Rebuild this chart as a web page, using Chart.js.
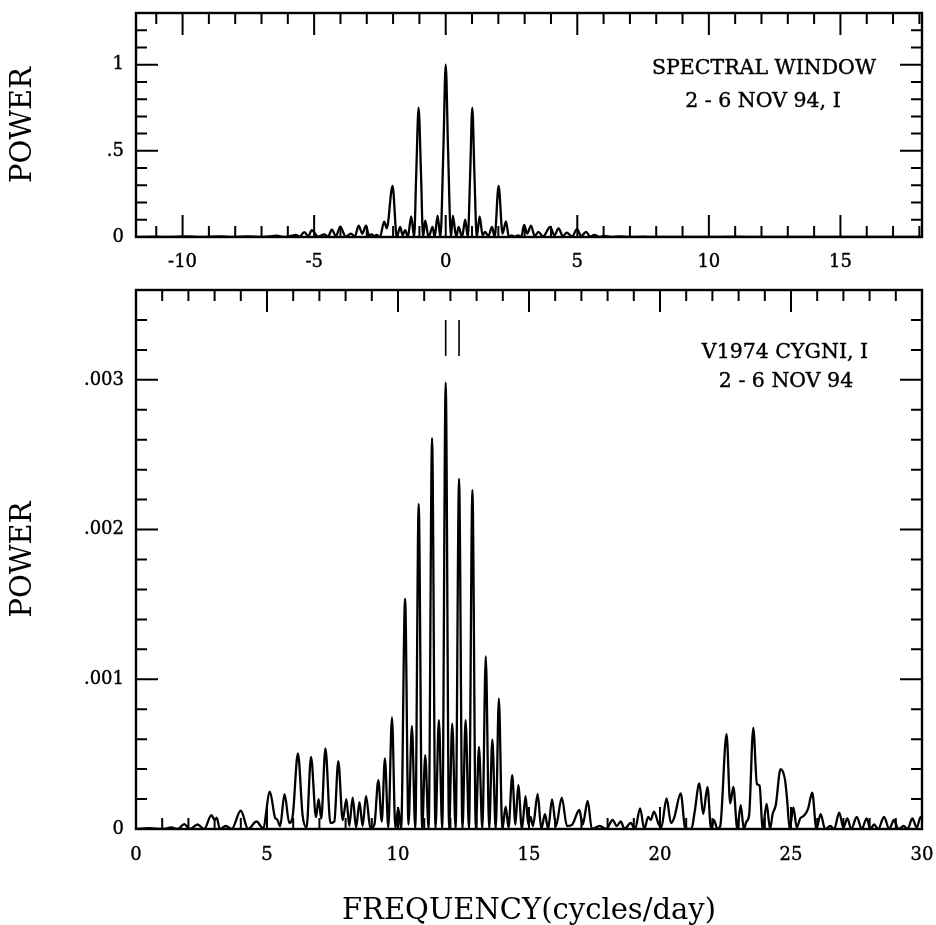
<!DOCTYPE html>
<html><head><meta charset="utf-8">
<script src="https://cdn.jsdelivr.net/npm/chart.js@4/dist/chart.umd.min.js"></script>
<style>
html,body{margin:0;padding:0;background:#fff;}
#wrap{position:relative;width:936px;height:925px;background:#fff;}
canvas{position:absolute;left:0;}
#c1{top:0;}
#c2{top:270px;}
</style></head><body>
<div id="wrap"><canvas id="c1" width="936" height="270"></canvas><canvas id="c2" width="936" height="655"></canvas></div>
<script>
// ---------- DATA ----------
// Top panel: spectral window
const windowFreq = [
 -11.77,-11.0,-10.5,-9.9,-9.3,-8.6,-8.1,-7.5,-7.0,-6.7,
 -6.42,-6.15,-5.9,-5.7,-5.55,-5.38,-5.22,-5.09,-4.85,-4.61,
 -4.47,-4.33,-4.17,-4.01,-3.8,-3.6,-3.45,-3.31,-3.17,-3.03,
 -2.92,-2.81,-2.72,-2.62,-2.5,-2.34,-2.24,-2.02,-1.86,-1.73,
 -1.64,-1.54,-1.44,-1.31,-1.2,-1.12,-1.03,-0.94,-0.86,-0.78,
 -0.65,-0.5,-0.42,-0.31,-0.2,-0.09,0,0.09,0.2,0.27,
 0.4,0.49,0.62,0.74,0.84,0.93,1.01,1.09,1.18,1.29,
 1.4,1.5,1.62,1.76,1.86,2.01,2.16,2.29,2.4,2.5,
 2.62,2.75,2.87,2.98,3.1,3.24,3.38,3.52,3.7,3.97,
 4.13,4.29,4.45,4.6,4.8,4.99,5.15,5.33,5.5,5.65,
 5.85,6.0,6.3,6.6,7.0,7.5,8.0,9.0,10.0,11.0,
 12.0,13.5,15.0,16.5,18.1];
const windowPower = [
 0,0.002,0,0.003,0,0.003,0,0.004,0,0.004,
 0.008,0,0.006,0.012,0.002,0.028,0.005,0.04,0.002,0.015,
 0.002,0.043,0.005,0.06,0.003,0.02,0.003,0.066,0.02,0.066,
 0.01,0.015,0.005,0.012,0,0.089,0.05,0.297,0,0.058,
 0.01,0.04,0,0.12,0,0.37,0.75,0.37,0,0.095,
 0,0.058,0,0.124,0,0.5,1.0,0.5,0,0.124,
 0,0.058,0,0.1,0,0.37,0.75,0.37,0,0.12,
 0.01,0.03,0.005,0.058,0,0.297,0.02,0.09,0,0.01,
 0.002,0.01,0,0.07,0.02,0.066,0.005,0.03,0.003,0.058,
 0.01,0.05,0.005,0.025,0.003,0.045,0.005,0.03,0.002,0.012,
 0,0.006,0,0.003,0,0.002,0,0.001,0,0.002,
 0,0.001,0,0.001,0];

// Bottom panel: V1974 Cygni power spectrum (power in units of 0.001)
const cygFreq = [
 0,0.5,1.0,1.35,1.6,1.84,2.05,2.35,2.6,2.88,
 3.0,3.08,3.2,3.43,3.65,4.0,4.28,4.6,4.85,5.11,
 5.3,5.4,5.5,5.67,5.85,5.98,6.18,6.36,6.51,6.68,
 6.87,6.97,7.07,7.23,7.42,7.57,7.72,7.89,8.03,8.14,
 8.27,8.4,8.53,8.65,8.78,8.95,9.1,9.25,9.38,9.5,
 9.63,9.77,9.9,10.01,10.12,10.27,10.4,10.53,10.66,10.79,
 10.92,11.04,11.17,11.30,11.43,11.56,11.69,11.82,11.95,12.07,
 12.2,12.33,12.46,12.58,12.71,12.84,12.97,13.09,13.22,13.35,
 13.48,13.6,13.73,13.85,13.98,14.11,14.22,14.36,14.48,14.59,
 14.73,14.87,14.97,15.06,15.15,15.33,15.47,15.61,15.73,15.88,
 16.03,16.25,16.45,16.65,16.92,17.05,17.24,17.4,17.7,17.95,
 18.19,18.35,18.5,18.65,18.88,19.05,19.24,19.4,19.55,19.65,
 19.77,19.95,20.05,20.25,20.42,20.55,20.79,20.97,21.2,21.32,
 21.5,21.65,21.81,21.95,22.05,22.2,22.3,22.54,22.68,22.8,
 22.95,23.08,23.2,23.3,23.4,23.56,23.7,23.8,23.92,24.07,
 24.2,24.3,24.42,24.6,24.77,24.85,24.95,25.09,25.22,25.35,
 25.5,25.65,25.81,25.97,26.13,26.3,26.5,26.65,26.84,27.0,
 27.15,27.3,27.51,27.7,27.89,28.03,28.17,28.33,28.55,28.75,
 28.93,29.1,29.3,29.45,29.63,29.8,29.95,30];
const cygPowerMilli = [
 0,0.005,0,0.01,0,0.033,0,0.03,0,0.093,
 0.06,0.075,0,0.02,0,0.122,0,0.05,0.005,0.249,
 0.08,0.06,0.02,0.233,0.04,0.086,0.505,0.09,0.01,0.482,
 0.08,0.2,0.07,0.538,0.04,0.05,0.453,0.06,0.2,0.02,
 0.21,0.01,0.18,0.02,0.22,0,0.03,0.327,0.05,0.471,
 0.01,0.745,0.005,0.14,0,1.538,0.03,0.687,0,2.171,
 0,0.493,0,2.611,0,0.727,0,2.982,0,0.704,
 0,2.338,0,0.727,0,2.264,0,0.549,0,1.153,
 0,0.598,0,0.871,0,0.15,0.01,0.36,0.03,0.293,
 0,0.22,0.03,0.08,0.02,0.233,0,0.1,0,0.198,
 0.02,0.209,0.02,0.03,0.127,0.03,0.187,0,0.02,0,
 0.06,0.02,0.05,0,0.04,0,0.138,0,0.08,0.06,
 0.116,0.03,0.01,0.204,0.04,0.08,0.238,0,0,0.11,
 0.304,0.1,0.282,0,0.06,0,0.02,0.633,0.17,0.282,
 0,0.16,0,0.05,0.09,0.676,0.3,0.29,0,0.167,
 0,0.1,0.16,0.4,0.33,0.2,0,0.144,0.01,0.07,
 0.09,0.135,0.242,0,0.1,0,0.02,0,0.11,0.01,
 0.07,0,0.08,0,0.07,0,0.03,0,0.08,0,
 0.06,0,0.02,0,0.07,0.01,0.08,0.07];
const POWER_UNIT = 0.001;

// Marker lines ("||") above the main peaks
const markerFreqs = [11.82, 12.33];
const markerPowerRange = [0.00316, 0.0034];

// Axes ranges and tick labels
const topXRange = [-11.77, 18.1];
const topYRange = [0, 1.3];
const topXMajor = [-10, -5, 0, 5, 10, 15];
const topXLabels = ['-10', '-5', '0', '5', '10', '15'];
const topYMajor = [0, 0.5, 1];
const topYLabels = ['0', '.5', '1'];
const botXRange = [0, 30];
const botYRange = [0, 0.0036];
const botXMajor = [0, 5, 10, 15, 20, 25, 30];
const botXLabels = ['0', '5', '10', '15', '20', '25', '30'];
const botYMajor = [0, 0.001, 0.002, 0.003];
const botYLabels = ['0', '.001', '.002', '.003'];
const xMinorStep = 1, topYMinorStep = 0.1, botYMinorStep = 0.0002;

// Text
const topNote = ['SPECTRAL WINDOW', '2 - 6 NOV 94, I'];
const botNote = ['V1974 CYGNI, I', '2 - 6 NOV 94'];
const yTitle = 'POWER';
const xTitle = 'FREQUENCY(cycles/day)';

// ---------- RENDERING ----------
const FONT = "'DejaVu Serif', 'Liberation Serif', serif";

function stepValues(min, max, step) {
  const out = [];
  const start = Math.ceil(min / step - 1e-9);
  const end = Math.floor(max / step + 1e-9);
  for (let i = start; i <= end; i++) out.push(+(i * step).toPrecision(12));
  return out;
}
function isIn(v, arr, tol) { return arr.findIndex(m => Math.abs(m - v) < tol); }

function tickBuilder(range, step, majors, tol) {
  return function (scale) {
    scale.ticks = stepValues(range[0], range[1], step).map(v => ({ value: v, big: isIn(v, majors, tol) >= 0 }));
  };
}
function labelCb(majors, labels, tol) {
  return function (v) { const i = isIn(v, majors, tol); return i >= 0 ? labels[i] : ''; };
}

const frameTicks = {
  id: 'frameTicks',
  afterDatasetsDraw(chart) {
    const { ctx, chartArea: a } = chart;
    const xs = chart.scales.x, ys = chart.scales.y;
    ctx.save();
    ctx.strokeStyle = '#000';
    ctx.lineWidth = 2;
    ctx.beginPath();
    xs.ticks.forEach(t => {
      const p = xs.getPixelForValue(t.value);
      const L = t.big ? 22 : 11;
      ctx.moveTo(p, a.bottom); ctx.lineTo(p, a.bottom - L);
      ctx.moveTo(p, a.top); ctx.lineTo(p, a.top + L);
    });
    ys.ticks.forEach(t => {
      const p = ys.getPixelForValue(t.value);
      const L = t.big ? 22 : 11;
      ctx.moveTo(a.left, p); ctx.lineTo(a.left + L, p);
      ctx.moveTo(a.right, p); ctx.lineTo(a.right - L, p);
    });
    ctx.stroke();
    ctx.lineWidth = 2.4;
    ctx.strokeRect(a.left, a.top, a.right - a.left, a.bottom - a.top);
    ctx.restore();
  }
};

const notes = {
  id: 'notes',
  afterDraw(chart, args, opts) {
    const ctx = chart.ctx;
    ctx.save();
    ctx.fillStyle = '#000';
    ctx.strokeStyle = '#000';
    ctx.lineWidth = 0.4;
    ctx.font = opts.font;
    ctx.textAlign = 'center';
    ctx.textBaseline = 'alphabetic';
    (opts.items || []).forEach(it => { ctx.fillText(it.text, it.x, it.y); ctx.strokeText(it.text, it.x, it.y); });
    ctx.restore();
  }
};

function baseOptions(p) {
  return {
    responsive: false,
    animation: false,
    devicePixelRatio: 1,
    layout: { padding: p.padding },
    plugins: { legend: { display: false }, tooltip: { enabled: false }, notes: p.notes },
    scales: {
      x: {
        type: 'linear', min: p.xRange[0], max: p.xRange[1],
        grid: { display: false }, border: { display: false },
        afterBuildTicks: tickBuilder(p.xRange, xMinorStep, p.xMajor, 1e-6),
        afterFit: s => { s.height = p.xHeight; s.paddingLeft = 0; s.paddingRight = 0; },
        ticks: { autoSkip: false, maxRotation: 0, minRotation: 0, padding: p.xPad, color: '#000',
                 textStrokeColor: '#000', textStrokeWidth: 0.4,
                 font: { family: FONT, size: 18 }, callback: labelCb(p.xMajor, p.xLabels, 1e-6) },
        title: p.xTitle
      },
      y: {
        type: 'linear', min: p.yRange[0], max: p.yRange[1],
        grid: { display: false }, border: { display: false },
        afterBuildTicks: tickBuilder(p.yRange, p.yStep, p.yMajor, p.yStep * 1e-3),
        afterFit: s => { s.width = 136; s.paddingTop = 0; s.paddingBottom = 0; },
        ticks: { autoSkip: false, padding: 4, color: '#000',
                 textStrokeColor: '#000', textStrokeWidth: 0.4,
                 font: { family: FONT, size: 18 }, callback: labelCb(p.yMajor, p.yLabels, p.yStep * 1e-3) },
        title: { display: true, text: yTitle, color: '#000', font: { family: FONT, size: 29 }, padding: { top: 6, bottom: 0 } }
      }
    }
  };
}

new Chart(document.getElementById('c1'), {
  type: 'line',
  data: {
    datasets: [{
      data: windowFreq.map((f, i) => ({ x: f, y: windowPower[i] })),
      borderColor: '#000', borderWidth: 2.3, pointRadius: 0, fill: false,
      cubicInterpolationMode: 'monotone'
    }]
  },
  options: baseOptions({
    padding: { top: 13, right: 14, left: 0, bottom: 0 },
    xRange: topXRange, xMajor: topXMajor, xLabels: topXLabels, xHeight: 33, xPad: 7,
    xTitle: { display: false },
    yRange: topYRange, yMajor: topYMajor, yLabels: topYLabels, yStep: topYMinorStep,
    notes: { font: "20.5px " + FONT, items: [
      { text: topNote[0], x: 764, y: 74 },
      { text: topNote[1], x: 763, y: 107 } ] }
  }),
  plugins: [frameTicks, notes]
});

const markerSets = markerFreqs.map(f => ({
  data: markerPowerRange.map(v => ({ x: f, y: v })),
  borderColor: '#000', borderWidth: 1.6, pointRadius: 0, fill: false, tension: 0
}));

new Chart(document.getElementById('c2'), {
  type: 'line',
  data: {
    datasets: [{
      data: cygFreq.map((f, i) => ({ x: f, y: cygPowerMilli[i] * POWER_UNIT })),
      borderColor: '#000', borderWidth: 2.3, pointRadius: 0, fill: false,
      cubicInterpolationMode: 'monotone'
    }].concat(markerSets)
  },
  options: baseOptions({
    padding: { top: 20, right: 14, left: 0, bottom: 0 },
    xRange: botXRange, xMajor: botXMajor, xLabels: botXLabels, xHeight: 96, xPad: 8,
    xTitle: { display: true, text: xTitle, color: '#000', font: { family: FONT, size: 29, lineHeight: 0.9 }, padding: { top: 0, bottom: 0 } },
    yRange: botYRange, yMajor: botYMajor, yLabels: botYLabels, yStep: botYMinorStep,
    notes: { font: "20.5px " + FONT, items: [
      { text: botNote[0], x: 785, y: 88 },
      { text: botNote[1], x: 786, y: 117 } ] }
  }),
  plugins: [frameTicks, notes]
});
</script>
</body></html>
